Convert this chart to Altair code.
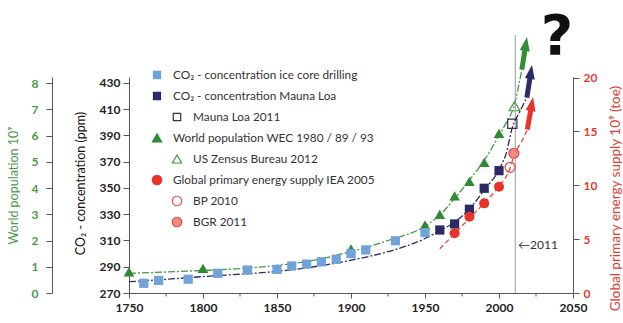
import altair as alt
import pandas as pd

# ---------------- data ----------------
ice_years = [1760, 1770, 1790, 1810, 1830, 1850, 1860, 1870, 1880, 1890, 1900, 1910, 1930, 1950]
ice_co2 = [277.4, 279.6, 280.5, 285.0, 287.5, 288.0, 290.6, 292.0, 293.8, 295.7, 300.0, 302.8, 309.8, 316.0]

ml_years = [1960, 1970, 1980, 1990, 2000]
ml_co2 = [318.0, 322.6, 333.8, 349.8, 363.2]
ml2011_years = [2009]
ml2011_co2 = [399.0]

wec_years = [1750, 1800, 1900, 1950, 1960, 1970, 1980, 1990, 2000]
wec_pop = [0.81, 0.94, 1.68, 2.59, 3.00, 3.70, 4.25, 4.98, 6.08]
census_years = [2010.5]
census_pop = [7.12]

iea_years = [1970, 1980, 1990, 2000]
iea_energy = [5.54, 7.08, 8.32, 9.87]
bp_years = [2007.5]
bp_energy = [11.67]
bgr_years = [2010]
bgr_energy = [12.97]

# traced trend curves
pop_fit_years = [1750, 1775, 1800, 1825, 1850, 1875, 1900, 1925, 1950, 1960, 1970, 1980, 1990, 2000, 2005, 2010, 2015.4]
pop_fit_vals = [0.75, 0.80, 0.86, 0.93, 1.05, 1.25, 1.58, 2.00, 2.55, 2.97, 3.60, 4.30, 5.05, 6.00, 6.50, 7.10, 8.51]
co2_fit_years = [1750, 1775, 1800, 1825, 1850, 1875, 1900, 1925, 1950, 1960, 1970, 1980, 1990, 2000, 2005, 2009, 2014, 2018.8]
co2_fit_vals = [278.6, 280.4, 282.5, 284.3, 286.5, 290.0, 295.0, 301.5, 311.5, 317.5, 324.0, 334.0, 348.5, 364.0, 377.0, 396.0, 408.0, 418.9]
en_fit_years = [1960, 1970, 1980, 1990, 2000, 2007.5, 2010, 2015, 2019.0]
en_fit_vals = [4.10, 5.50, 6.95, 8.35, 9.90, 11.60, 12.70, 14.00, 15.10]

# arrow tips (year, value on own axis)
pop_arrow_year, pop_arrow_val = [2018.9], [9.75]
co2_arrow_year, co2_arrow_val = [2022.3], [443.7]
en_arrow_year, en_arrow_val = [2023.0], [18.19]

marker_year = [2011]
marker_co2_range = [270, 466.6]

x_ticks = [1750, 1800, 1850, 1900, 1950, 2000, 2050]
x_minor = [1775, 1825, 1875, 1925, 1975, 2025]
pop_ticks = [0, 1, 2, 3, 4, 5, 6, 7, 8]
co2_ticks = [270, 290, 310, 330, 350, 370, 390, 410, 430]
en_ticks = [0, 5, 10, 15, 20]

legend_labels = [
    "CO\u2082 - concentration ice core drilling",
    "CO\u2082 - concentration Mauna Loa",
    "Mauna Loa 2011",
    "World population WEC 1980 / 89 / 93",
    "US Zensus Bureau 2012",
    "Global primary energy supply IEA 2005",
    "BP 2010",
    "BGR 2011",
]
legend_indent = [0, 0, 1, 0, 1, 0, 1, 1]

# ---------------- styles ----------------
FONT = "Lato"
BLUE_L = "#6fa3d9"
NAVY = "#2b2b66"
GREEN = "#2f8a36"
GREEN_T = "#4a9a46"
RED = "#e8332b"
RED_T = "#e23b30"
PINK = "#f28b80"
AX = "#555555"

ARROW = "M0,0L5,14L2.5,14L2.5,33L-2.5,33L-2.5,14L-5,14Z"

W, H = 444, 216

xscale = alt.Scale(domain=[1750, 2050], nice=False, zero=False)
xaxis = alt.Axis(values=x_ticks, format="d", title=None, tickSize=5, labelPadding=4,
                 labelFlush=False, labelOverlap=False, grid=False)


def XE():
    return alt.X("year:Q", scale=xscale, axis=xaxis)


pop_scale = alt.Scale(domain=[0, 8.229], nice=False, zero=False)
pop_axis = alt.Axis(orient="left", offset=77, values=pop_ticks, title="World population  10\u2079",
                    titleColor=GREEN_T, labelColor=GREEN_T, tickSize=6, labelPadding=8,
                    titleX=-39, titleY=108, titleAlign="center", titleBaseline="middle",
                    labelFlush=False, grid=False, titleFontSize=12.5)
co2_scale = alt.Scale(domain=[270, 434.57], nice=False, zero=False)
co2_axis = alt.Axis(orient="left", values=co2_ticks, title="CO\u2082 - concentration (ppm)",
                    titleColor="#111111", labelColor="#222222", tickSize=6, labelPadding=3,
                    titleX=-49, titleY=106, titleAlign="center", titleBaseline="middle",
                    labelFlush=False, grid=False, titleFontSize=12.5)
en_scale = alt.Scale(domain=[0, 20.05], nice=False, zero=False)
en_axis = alt.Axis(orient="right", values=en_ticks, title="Global primary energy supply  10\u2079 (toe)",
                   titleColor=RED_T, labelColor=RED_T, tickSize=6, labelPadding=4,
                   titleAngle=270, titleX=42, titleY=121, titleAlign="center", titleBaseline="middle",
                   labelFlush=False, grid=False, titleFontSize=13.5)


def YP():
    return alt.Y("v:Q", scale=pop_scale, axis=pop_axis)


def YC():
    return alt.Y("v:Q", scale=co2_scale, axis=co2_axis)


def YE():
    return alt.Y("v:Q", scale=en_scale, axis=en_axis)


def df(years, vals):
    return pd.DataFrame({"year": years, "v": vals})


# ---------------- population group ----------------
pop_group = alt.layer(
    alt.Chart(df(pop_fit_years, pop_fit_vals)).mark_line(
        color="#3f9a3f", strokeWidth=1.3, strokeDash=[7, 2, 2, 2], interpolate="monotone"
    ).encode(x=XE(), y=YP()),
    alt.Chart(df(wec_years, wec_pop)).mark_point(
        shape="triangle-up", filled=True, size=115, color=GREEN, opacity=1
    ).encode(x=XE(), y=YP()),
    alt.Chart(df(census_years, census_pop)).mark_point(
        shape="triangle-up", filled=False, size=115, color="#3f9a3f", strokeWidth=1.2, opacity=1
    ).encode(x=XE(), y=YP()),
    alt.Chart(df(pop_arrow_year, pop_arrow_val)).mark_point(
        shape=ARROW, filled=True, size=4, color="#2f8f36", angle=9, opacity=1
    ).encode(x=XE(), y=YP()),
)

# ---------------- CO2 group ----------------
co2_group = alt.layer(
    alt.Chart(pd.DataFrame({"year": marker_year, "v": [marker_co2_range[0]], "v2": [marker_co2_range[1]]})).mark_rule(
        color="#9a9a9a", strokeWidth=1
    ).encode(x=XE(), y=YC(), y2="v2:Q"),
    alt.Chart(df(co2_fit_years, co2_fit_vals)).mark_line(
        color="#2d2d5a", strokeWidth=1.3, strokeDash=[7, 2, 2, 2], interpolate="monotone"
    ).encode(x=XE(), y=YC()),
    alt.Chart(df(ice_years, ice_co2)).mark_point(
        shape="square", filled=True, size=85, color=BLUE_L, opacity=1
    ).encode(x=XE(), y=YC()),
    alt.Chart(df(ml_years, ml_co2)).mark_point(
        shape="square", filled=True, size=85, color=NAVY, opacity=1
    ).encode(x=XE(), y=YC()),
    alt.Chart(df(ml2011_years, ml2011_co2)).mark_point(
        shape="square", filled=False, size=85, color="#333344", strokeWidth=1.2, opacity=1
    ).encode(x=XE(), y=YC()),
    alt.Chart(df(co2_arrow_year, co2_arrow_val)).mark_point(
        shape=ARROW, filled=True, size=4, color=NAVY, angle=9, opacity=1
    ).encode(x=XE(), y=YC()),
)

# ---------------- energy group ----------------
en_group = alt.layer(
    alt.Chart(df(en_fit_years, en_fit_vals)).mark_line(
        color="#e8453c", strokeWidth=1.3, strokeDash=[5, 3], interpolate="monotone"
    ).encode(x=XE(), y=YE()),
    alt.Chart(df(iea_years, iea_energy)).mark_point(
        shape="circle", filled=True, size=100, color=RED, opacity=1
    ).encode(x=XE(), y=YE()),
    alt.Chart(df(bp_years, bp_energy)).mark_point(
        shape="circle", filled=False, size=100, color="#e8504a", strokeWidth=1.3, opacity=1
    ).encode(x=XE(), y=YE()),
    alt.Chart(df(bgr_years, bgr_energy)).mark_point(
        shape="circle", filled=True, size=100, fill=PINK, stroke="#e0463c", strokeWidth=1.2, opacity=1
    ).encode(x=XE(), y=YE()),
    alt.Chart(df(en_arrow_year, en_arrow_val)).mark_point(
        shape=ARROW, filled=True, size=4, color=RED, angle=10, opacity=1
    ).encode(x=XE(), y=YE()),
)

# ---------------- decorations ----------------
one = pd.DataFrame({"a": [0]})
deco = [
    alt.Chart(pd.DataFrame({"year": x_minor})).mark_rule(color=AX, strokeWidth=1).encode(
        x=XE(), y=alt.value(H), y2=alt.value(H + 3.5)
    ),
    alt.Chart(one).mark_text(text="?", font="DejaVu Sans", fontSize=56, fontWeight="bold",
                             color="#111111", align="center", baseline="alphabetic").encode(
        x=alt.value(428), y=alt.value(-23)
    ),
    alt.Chart(one).mark_text(text="\u21902011", font=FONT, fontSize=12, color="#333333",
                             align="left", baseline="middle").encode(
        x=alt.value(389), y=alt.value(168)
    ),
]

legend_syms = [
    dict(shape="square", fill=BLUE_L, stroke=BLUE_L, size=50),
    dict(shape="square", fill=NAVY, stroke=NAVY, size=50),
    dict(shape="square", fill="transparent", stroke="#333344", size=55),
    dict(shape="triangle-up", fill=GREEN, stroke=GREEN, size=85),
    dict(shape="triangle-up", fill="transparent", stroke="#3f9a3f", size=85),
    dict(shape="circle", fill=RED, stroke=RED, size=90),
    dict(shape="circle", fill="transparent", stroke="#e8504a", size=90),
    dict(shape="circle", fill=PINK, stroke="#e0463c", size=90),
]
for i, (lab, ind, sym) in enumerate(zip(legend_labels, legend_indent, legend_syms)):
    py = -2 + 21 * i
    deco.append(
        alt.Chart(one).mark_point(shape=sym["shape"], filled=True, fill=sym["fill"], stroke=sym["stroke"],
                                  strokeWidth=1.2, size=sym["size"], opacity=1).encode(
            x=alt.value(28 + 20 * ind), y=alt.value(py)
        )
    )
    deco.append(
        alt.Chart(one).mark_text(text=lab, font=FONT, fontSize=11.8, color="#333333",
                                 align="left", baseline="middle").encode(
            x=alt.value(44 + 20 * ind), y=alt.value(py)
        )
    )

chart = alt.layer(pop_group, co2_group, en_group, *deco).resolve_scale(
    y="independent"
).properties(
    width=W, height=H,
    padding={"left": 129, "top": 77, "right": 50, "bottom": 30},
    autosize=alt.AutoSizeParams(type="none"),
    background="white",
).configure_view(
    strokeWidth=0
).configure_axis(
    labelFont=FONT, labelFontSize=12, labelFontWeight="bold", titleFont=FONT,
    titleFontWeight="normal", domainColor=AX, tickColor=AX, labelColor="#222222"
)

chart.save("out.html", embed_options={"renderer": "svg", "actions": False})
